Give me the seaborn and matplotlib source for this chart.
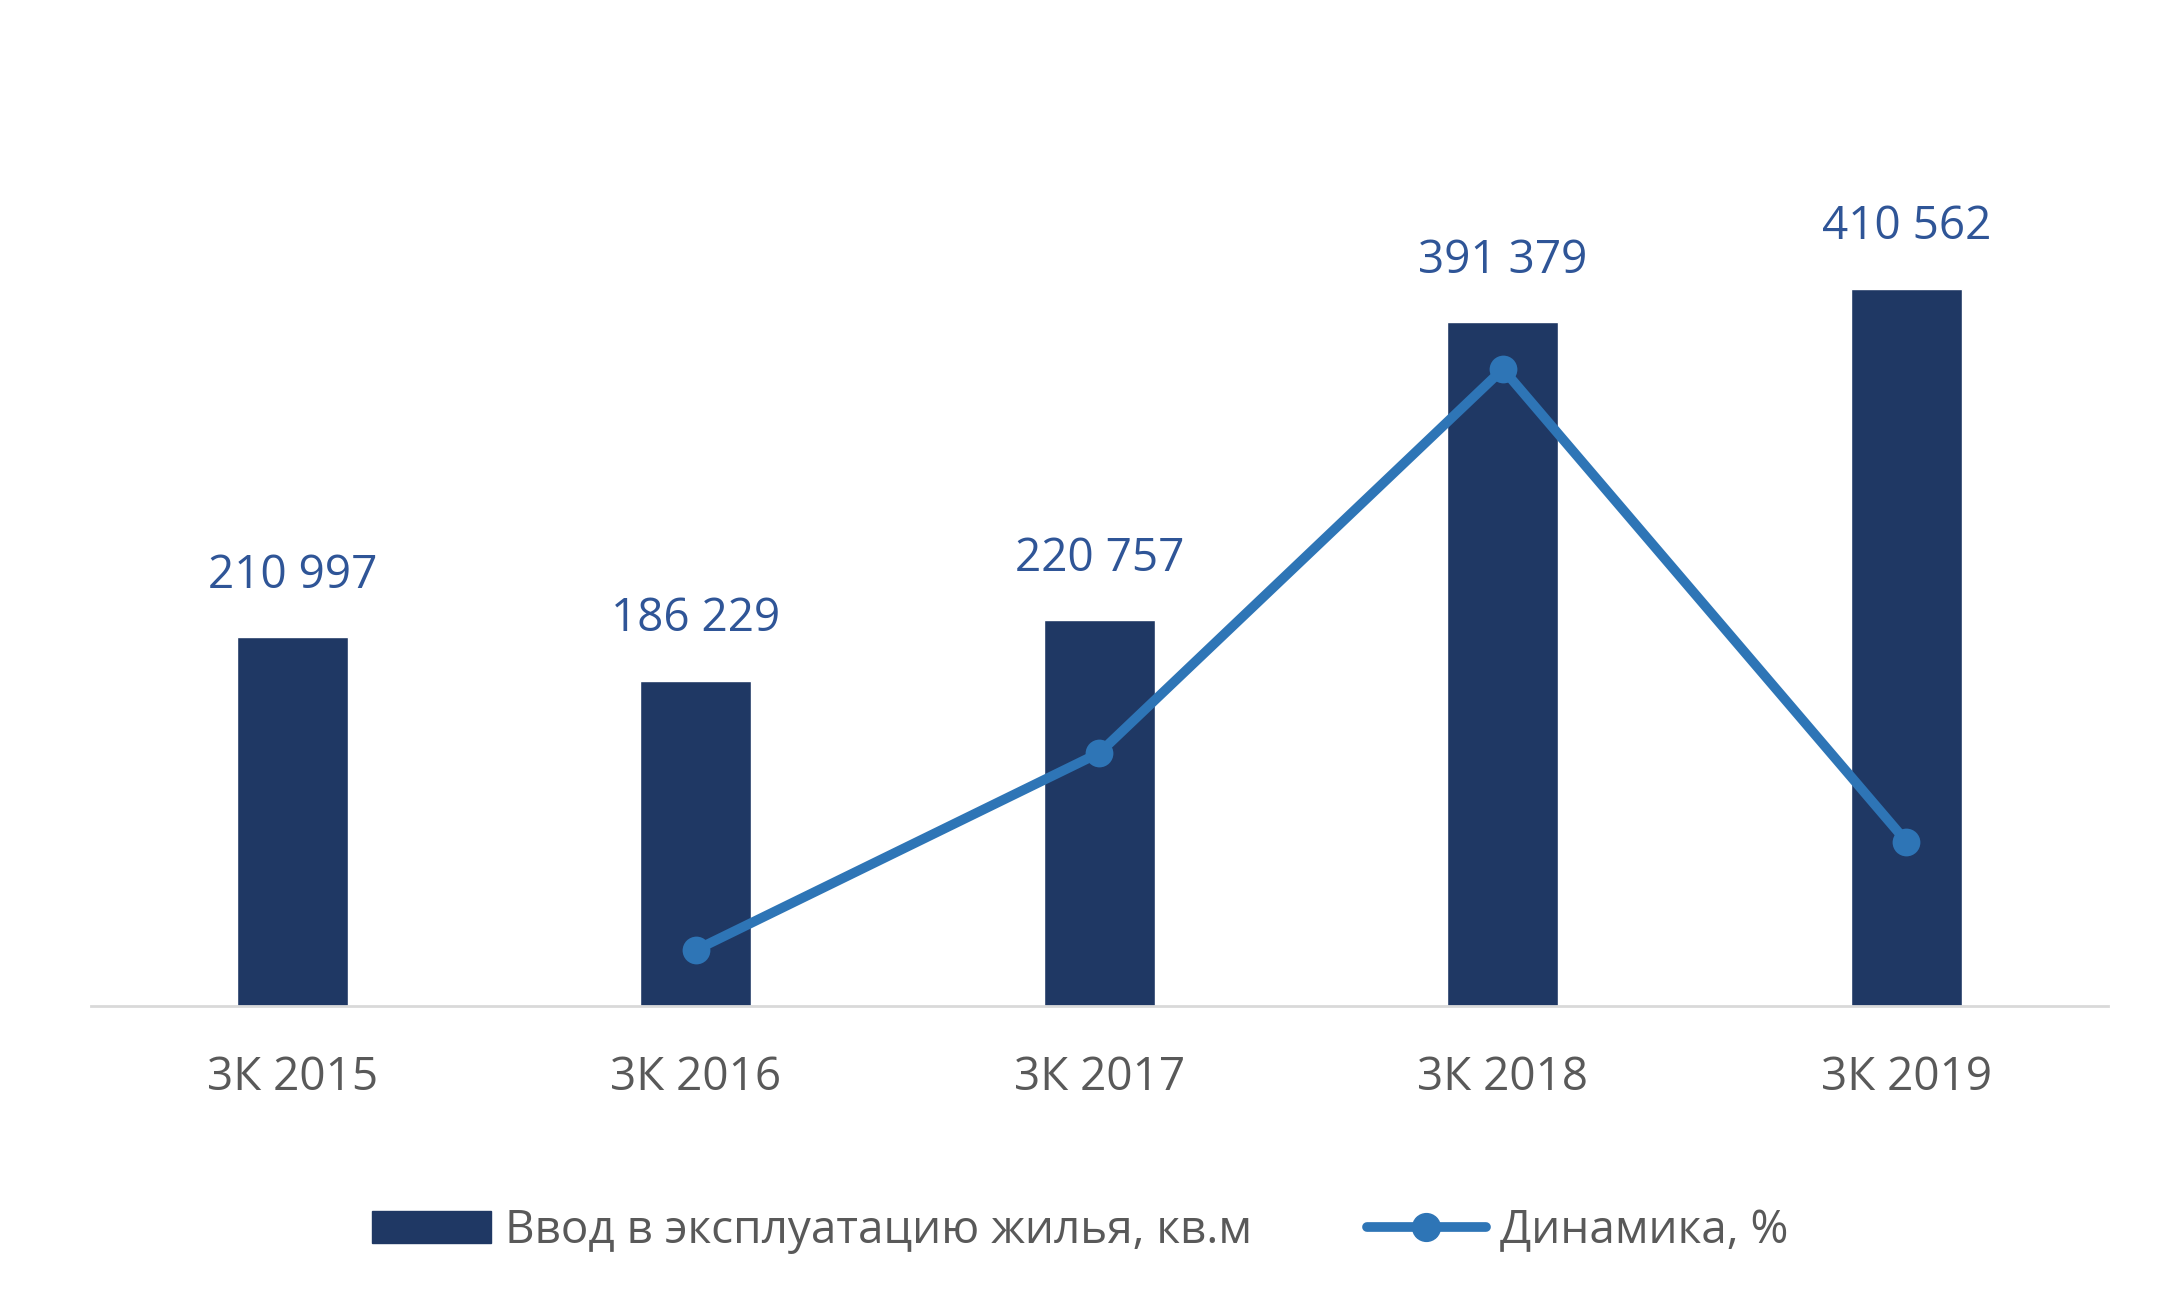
import matplotlib
matplotlib.use("Agg")
import matplotlib.pyplot as plt
import seaborn as sns
import pandas as pd
from matplotlib.lines import Line2D
from matplotlib.patches import Patch

categories = ["3К 2015", "3К 2016", "3К 2017", "3К 2018", "3К 2019"]
values = [210997, 186229, 220757, 391379, 410562]
value_labels = ["210 997", "186 229", "220 757", "391 379", "410 562"]
dyn_cats = ["3К 2016", "3К 2017", "3К 2018", "3К 2019"]
dynamics = [-11.7, 18.5, 77.3, 4.9]

sns.set_theme(style="white")
plt.rcParams['font.family'] = ['Open Sans', 'DejaVu Sans']

bar_c = "#1F3864"
line_c = "#2E75B6"
lab_c = "#2F5597"

fig = plt.figure(figsize=(21.6, 13.1), dpi=100)
ax = fig.add_axes([0.042, 0.232, 0.934, 0.704])
df = pd.DataFrame({"cat": categories, "val": values})
sns.barplot(data=df, x="cat", y="val", color=bar_c, width=0.275, ax=ax, saturation=1)
ax.set_ylim(0, 527800)
ax.set_xlim(-0.5, 4.5)
for i, (v, t) in enumerate(zip(values, value_labels)):
    ax.text(i, v + 22000, t, ha="center", va="bottom", fontsize=33, color=lab_c)
ax.set_yticks([])
ax.set_xlabel(""); ax.set_ylabel("")
for s in ["top", "right", "left"]:
    ax.spines[s].set_visible(False)
ax.spines["bottom"].set_color("#D9D9D9")
ax.spines["bottom"].set_linewidth(2)
ax.tick_params(axis="x", labelsize=33, labelcolor="#595959", length=0, pad=35)

ax2 = ax.twinx()
idx = [categories.index(c) for c in dyn_cats]
sns.lineplot(x=idx, y=dynamics, ax=ax2, color=line_c, lw=7, marker="o",
             markersize=20, markeredgewidth=0)
ax2.set_ylim(-20.3, 121)
ax2.set_xlim(-0.5, 4.5)
ax2.set_yticks([])
for s in ax2.spines.values():
    s.set_visible(False)

handles = [Patch(color=bar_c, label="Ввод в эксплуатацию жилья, кв.м"),
           Line2D([0], [0], color=line_c, lw=7, marker="o", markersize=20,
                  label="Динамика, %")]
fig.legend(handles=handles, loc="center", bbox_to_anchor=(0.5, 0.06), ncol=2,
           frameon=False, fontsize=33, labelcolor="#595959", handlelength=2.6,
           columnspacing=2.5, handletextpad=0.3)
fig.savefig("out.png", dpi=100)
